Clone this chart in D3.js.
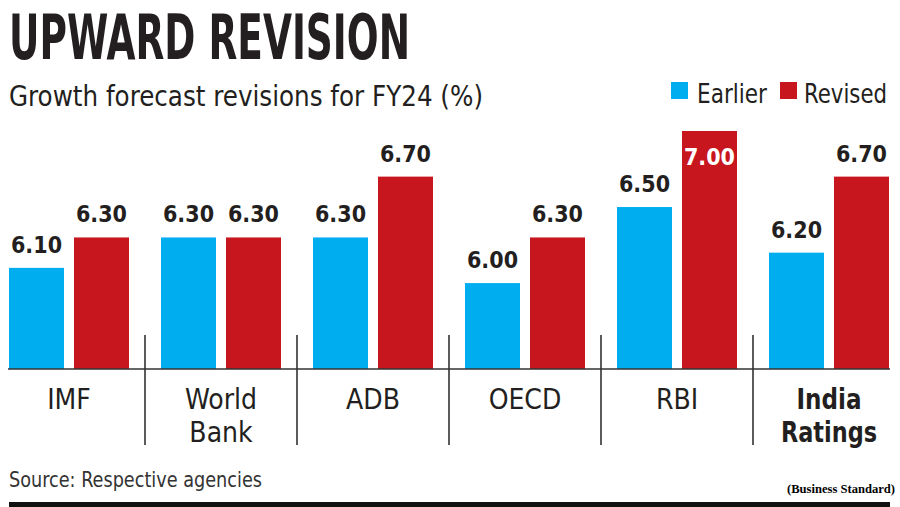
<!DOCTYPE html>
<html><head><meta charset="utf-8">
<script src="https://cdn.jsdelivr.net/npm/d3@7"></script>
<style>
html,body{margin:0;padding:0;background:#fff;}
svg{display:block;}
text{font-family:"DejaVu Sans Condensed","DejaVu Sans",sans-serif;fill:#231f20;}
</style></head>
<body>
<script>
const categories = ["IMF","World Bank","ADB","OECD","RBI","India Ratings"];
const categoryLines = [["IMF"],["World","Bank"],["ADB"],["OECD"],["RBI"],["India","Ratings"]];
const seriesNames = ["Earlier","Revised"];
const earlier = [6.10, 6.30, 6.30, 6.00, 6.50, 6.20];
const revised = [6.30, 6.30, 6.70, 6.30, 7.00, 6.70];
const colors = ["#00aeef", "#c8161e"];

const W = 900, H = 507;
const svg = d3.select("body").append("svg").attr("width", W).attr("height", H);

const baseY = 369;
const x0 = d3.scaleBand().domain(categories).range([-7, 905]).paddingInner(0).paddingOuter(0);
const x1 = d3.scaleBand().domain(seriesNames).range([16, 136]).paddingInner(0.1538);
const y = d3.scaleLinear().domain([5.435, 7.0]).range([baseY, 131]);

// Title
svg.append("text").attr("x", 9).attr("y", 59)
  .attr("font-size", 62).attr("font-weight", "bold")
  .attr("textLength", 401).attr("lengthAdjust", "spacingAndGlyphs")
  .text("UPWARD REVISION");
svg.append("text").attr("x", 9).attr("y", 106)
  .attr("font-size", 29)
  .attr("textLength", 474).attr("lengthAdjust", "spacingAndGlyphs")
  .text("Growth forecast revisions for FY24 (%)");

// Legend
const legend = [
  {name: "Earlier", sx: 671, tx: 697, tw: 70},
  {name: "Revised", sx: 780, tx: 804, tw: 83}
];
legend.forEach((l, i) => {
  svg.append("rect").attr("x", l.sx).attr("y", 82).attr("width", 17).attr("height", 17).attr("fill", colors[i]);
  svg.append("text").attr("x", l.tx).attr("y", 103).attr("font-size", 27)
    .attr("textLength", l.tw).attr("lengthAdjust", "spacingAndGlyphs").text(l.name);
});

// Bars
const data = categories.map((c, i) => ({cat: c, vals: [earlier[i], revised[i]]}));
const maxVal = d3.max(revised);
const g = svg.selectAll("g.grp").data(data).join("g").attr("class", "grp")
  .attr("transform", d => `translate(${x0(d.cat)},0)`);

g.selectAll("rect").data(d => d.vals.map((v, j) => ({v, s: seriesNames[j], j})))
  .join("rect")
  .attr("x", d => x1(d.s)).attr("width", x1.bandwidth())
  .attr("y", d => y(d.v)).attr("height", d => baseY - y(d.v))
  .attr("fill", d => colors[d.j]);

g.selectAll("text.val").data(d => d.vals.map((v, j) => ({v, s: seriesNames[j], j})))
  .join("text").attr("class", "val")
  .attr("x", d => x1(d.s) + x1.bandwidth() / 2)
  .attr("y", d => d.v === maxVal && d.j === 1 ? y(d.v) + 34 : y(d.v) - 15)
  .attr("text-anchor", "middle")
  .attr("font-size", 23).attr("font-weight", "bold")
  .style("fill", d => d.v === maxVal && d.j === 1 ? "#fff" : "#231f20")
  .text(d => d3.format(".2f")(d.v));

// Baseline
svg.append("line").attr("x1", 8).attr("x2", 890).attr("y1", baseY).attr("y2", baseY)
  .attr("stroke", "#333").attr("stroke-width", 1.6);

// Separators
categories.slice(1).forEach(c => {
  const sx = x0(c);
  svg.append("line").attr("x1", sx).attr("x2", sx).attr("y1", 335).attr("y2", 445)
    .attr("stroke", "#333").attr("stroke-width", 1.6);
});

// Category labels
const boldWidths = {"India": 65, "Ratings": 96};
categories.forEach((c, i) => {
  const cx = x0(c) + x0.bandwidth() / 2;
  const bold = c === "India Ratings";
  const t = svg.append("text").attr("x", cx).attr("y", 409).attr("text-anchor", "middle")
    .attr("font-size", 28).attr("font-weight", bold ? "bold" : "normal");
  categoryLines[i].forEach((ln, k) => {
    const ts = t.append("tspan").attr("x", cx).attr("y", 409 + k * 33).text(ln);
    if (bold) ts.attr("textLength", boldWidths[ln]).attr("lengthAdjust", "spacingAndGlyphs");
  });
});

// Source
svg.append("text").attr("x", 9).attr("y", 487).attr("font-size", 22)
  .attr("textLength", 253).attr("lengthAdjust", "spacingAndGlyphs")
  .style("fill", "#333").text("Source: Respective agencies");

svg.append("text").attr("x", 895).attr("y", 493).attr("text-anchor", "end")
  .attr("font-size", 13).attr("font-weight", "bold")
  .style("font-family", "'Liberation Serif','Times New Roman',serif").style("fill", "#000")
  .attr("textLength", 108).attr("lengthAdjust", "spacingAndGlyphs")
  .text("(Business Standard)");

// Bottom rule
svg.append("rect").attr("x", 9).attr("y", 502).attr("width", 881).attr("height", 5).attr("fill", "#111");
</script>
</body></html>
